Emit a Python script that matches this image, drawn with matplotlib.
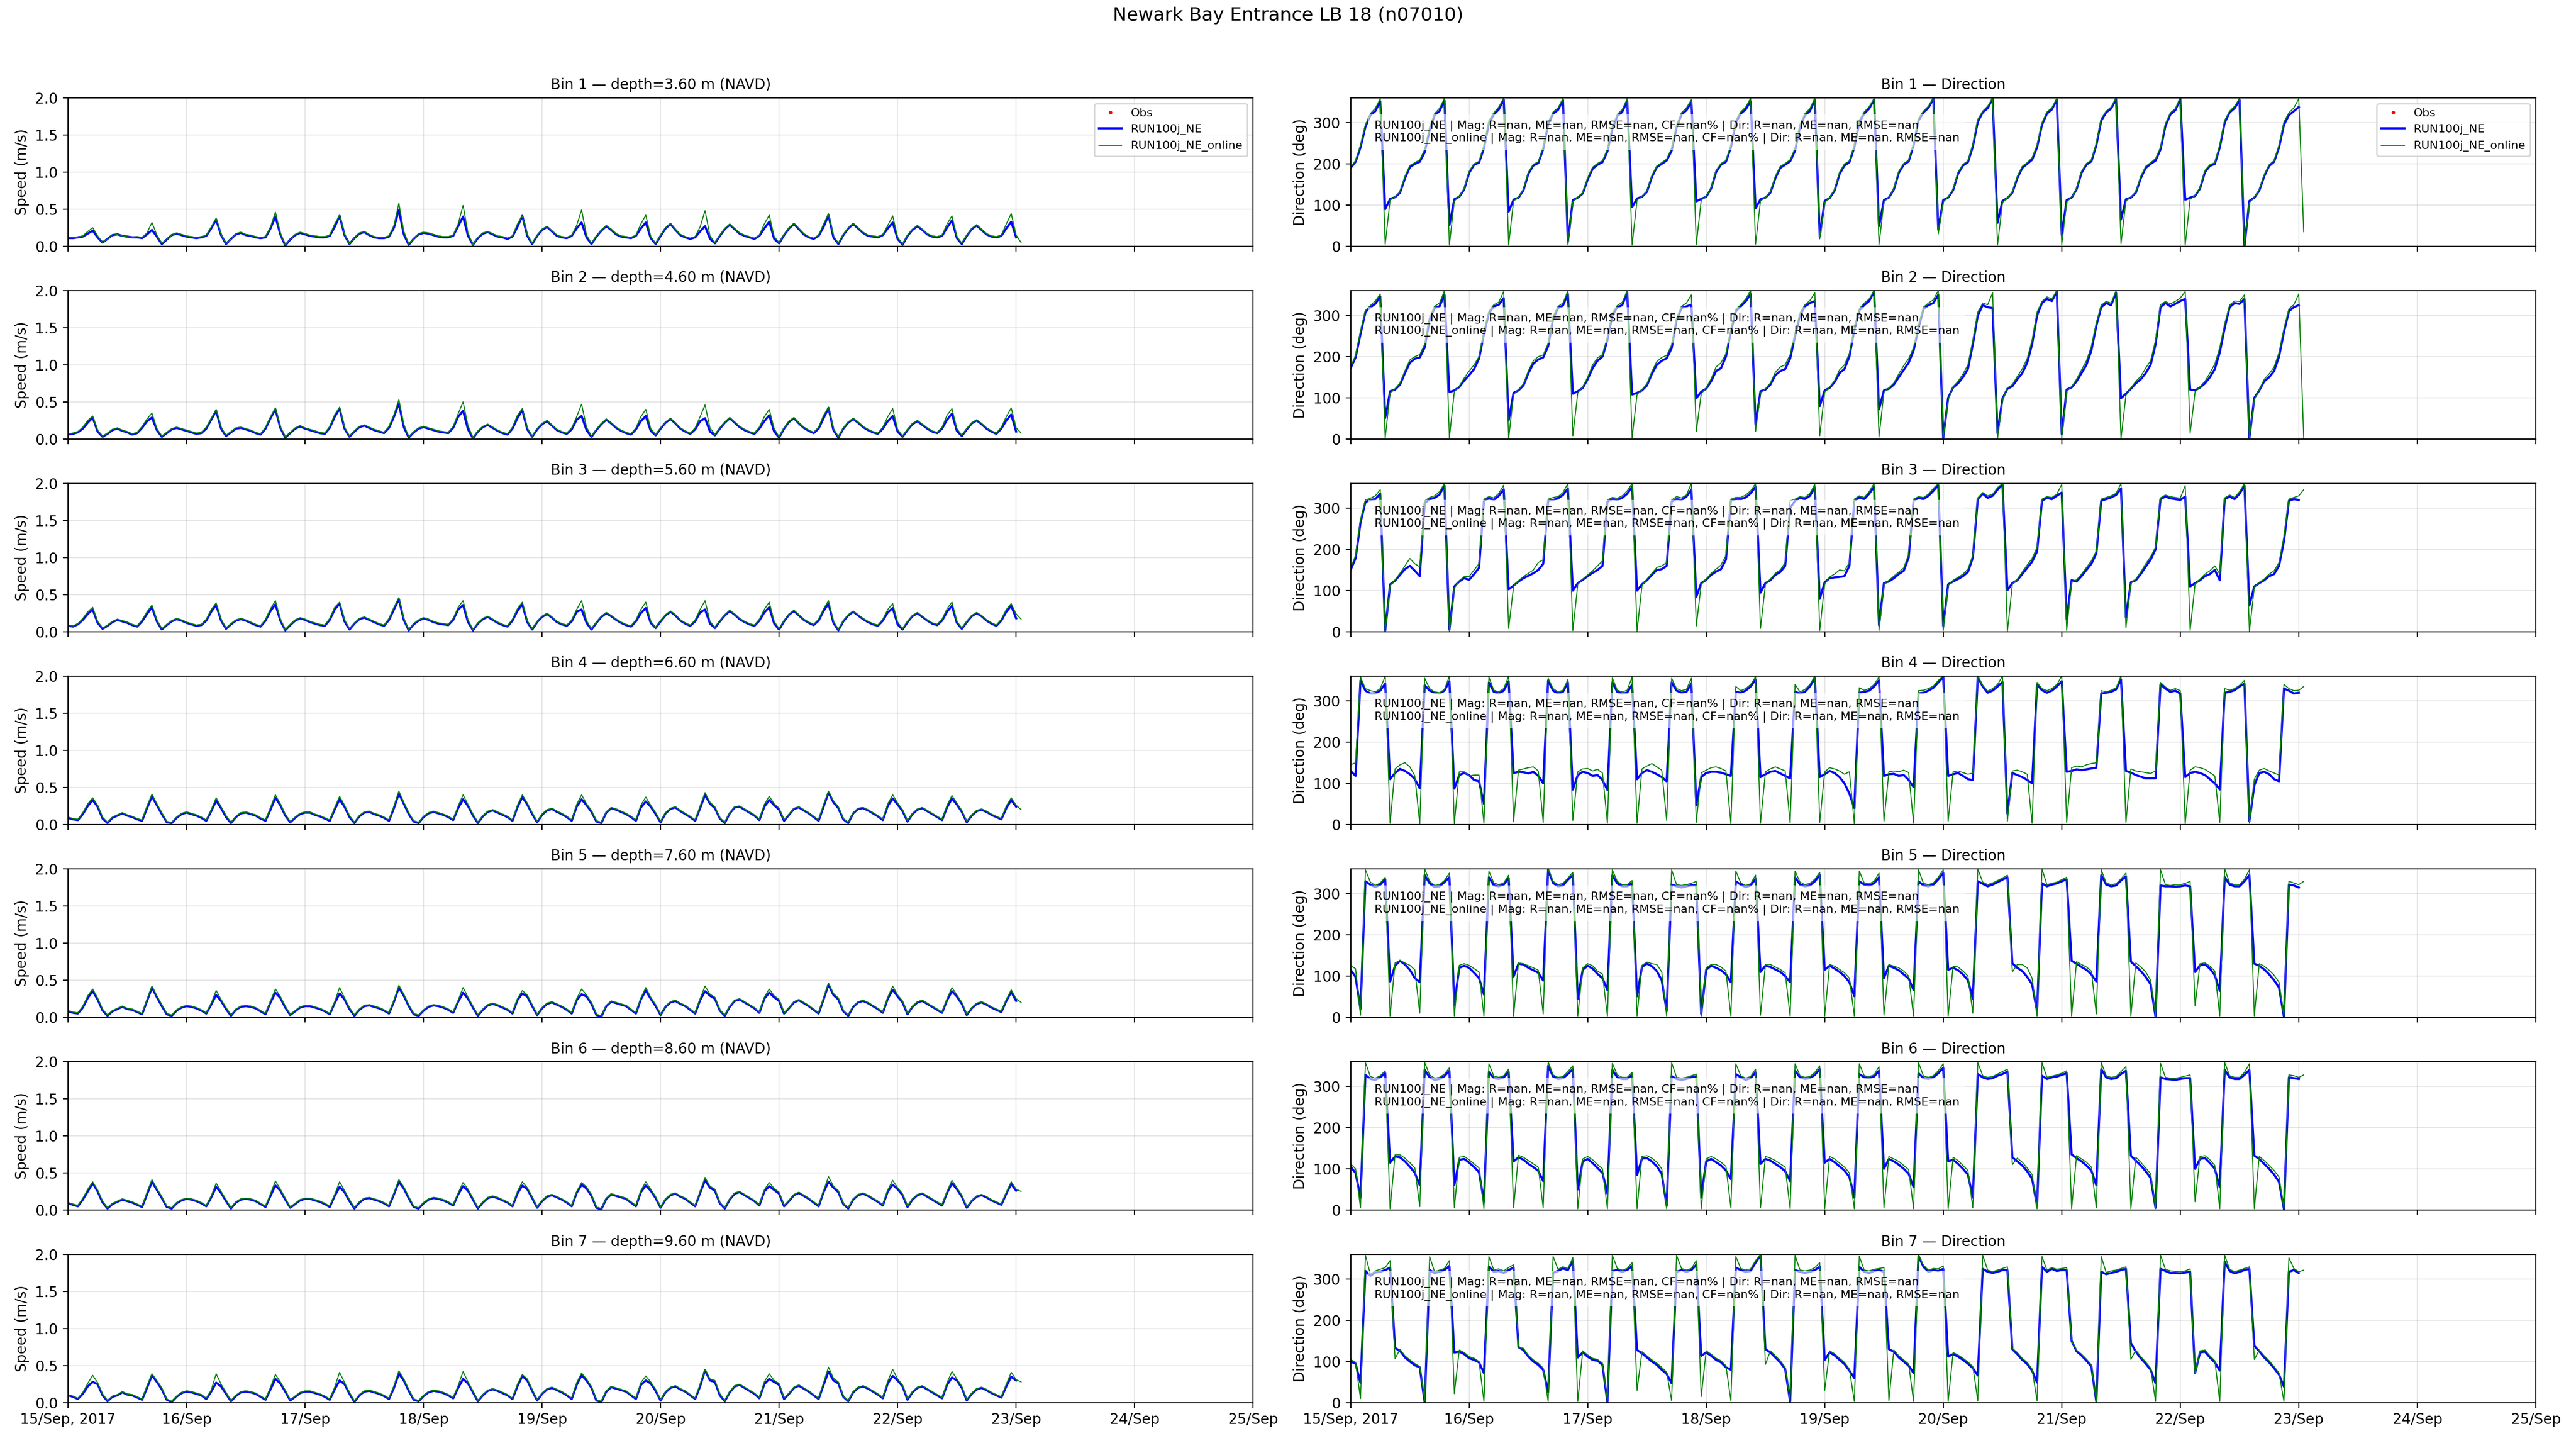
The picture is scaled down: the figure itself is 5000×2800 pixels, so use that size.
import numpy as np
import matplotlib
matplotlib.use("Agg")
import matplotlib.pyplot as plt

# ---------------- chart data ----------------
station_title = "Newark Bay Entrance LB 18 (n07010)"
bin_depths = [3.60, 4.60, 5.60, 6.60, 7.60, 8.60, 9.60]
model_names = ["RUN100j_NE", "RUN100j_NE_online"]
obs_label = "Obs"
series_start = "2017-09-15T00:00"   # hourly model output
x_tick_dates = ["2017-09-15", "2017-09-16", "2017-09-17", "2017-09-18", "2017-09-19", "2017-09-20",
                "2017-09-21", "2017-09-22", "2017-09-23", "2017-09-24", "2017-09-25"]
x_tick_labels = ["15/Sep, 2017", "16/Sep", "17/Sep", "18/Sep", "19/Sep", "20/Sep",
                 "21/Sep", "22/Sep", "23/Sep", "24/Sep", "25/Sep"]
speed_ticks = [0.0, 0.5, 1.0, 1.5, 2.0]
dir_ticks = [0, 100, 200, 300]
stats_text = ("RUN100j_NE | Mag: R=nan, ME=nan, RMSE=nan, CF=nan% | Dir: R=nan, ME=nan, RMSE=nan\n"
              "RUN100j_NE_online | Mag: R=nan, ME=nan, RMSE=nan, CF=nan% | Dir: R=nan, ME=nan, RMSE=nan")
obs_times = []
obs_values = []

# speed (m/s)
spd_run_bin1 = [.11,.11,.12,.13,.17,
.21,.12,.05,.10,.15,.16,.14,.13,.12,.12,.11,.16,
.22,.13,.03,.09,.15,.17,.15,.13,.12,.11,.12,.14,.24,
.36,.15,.03,.10,.16,.18,.15,.14,.12,.11,.12,.24,
.40,.16,.01,.09,.15,.18,.16,.14,.13,.12,.12,.14,.26,
.41,.15,.03,.11,.17,.19,.15,.12,.11,.11,.13,.25,
.49,.16,.02,.10,.16,.18,.17,.15,.13,.12,.12,.14,.27,
.40,.14,.02,.11,.17,.19,.16,.13,.12,.10,.13,.26,
.41,.14,.03,.14,.22,.26,.20,.14,.12,.11,.14,.24,
.32,.12,.03,.13,.21,.27,.22,.16,.13,.12,.11,.14,.24,
.32,.11,.03,.14,.24,.30,.22,.15,.12,.10,.12,.20,
.27,.10,.04,.14,.23,.29,.23,.17,.14,.12,.10,.14,.24,
.33,.10,.04,.15,.24,.30,.23,.16,.12,.10,.14,.26,
.42,.12,.03,.15,.24,.30,.24,.18,.14,.13,.12,.15,.24,
.32,.10,.02,.14,.22,.27,.22,.16,.13,.12,.14,.25,
.35,.11,.03,.14,.23,.28,.22,.16,.13,.12,.14,.24,
.33,.12]
spd_online_bin1 = [.12,.12,.12,.14,.20,
.25,.14,.05,.10,.15,.16,.14,.13,.12,.13,.12,.18,
.32,.15,.04,.09,.15,.18,.16,.14,.13,.12,.13,.15,.26,
.38,.16,.03,.10,.17,.19,.16,.15,.13,.12,.13,.26,
.46,.18,.02,.09,.16,.19,.17,.15,.14,.13,.13,.15,.30,
.42,.16,.03,.11,.18,.20,.16,.13,.12,.12,.14,.28,
.58,.20,.03,.10,.17,.19,.18,.16,.14,.13,.13,.15,.30,
.55,.18,.02,.12,.18,.20,.17,.14,.13,.11,.14,.30,
.41,.16,.04,.15,.23,.27,.21,.15,.13,.12,.15,.28,
.49,.15,.04,.14,.22,.28,.23,.17,.14,.13,.12,.15,.30,
.42,.13,.04,.15,.25,.31,.23,.16,.13,.11,.13,.26,
.48,.14,.05,.15,.24,.30,.24,.18,.15,.13,.11,.15,.30,
.42,.13,.05,.16,.25,.31,.24,.17,.13,.11,.15,.30,
.44,.14,.04,.16,.25,.31,.25,.19,.15,.14,.13,.16,.28,
.41,.12,.03,.15,.23,.28,.23,.17,.14,.13,.15,.30,
.41,.13,.04,.15,.24,.29,.23,.17,.14,.13,.15,.30,
.44,.15,.05]
spd_run_bin2 = [.06,.07,.09,.14,.22,
.29,.10,.03,.07,.12,.14,.11,.09,.06,.08,.15,.24,
.29,.12,.03,.08,.13,.15,.13,.11,.09,.07,.08,.14,.26,
.38,.14,.04,.09,.14,.15,.13,.11,.08,.06,.14,.28,
.40,.15,.02,.08,.14,.17,.14,.12,.10,.08,.07,.15,.30,
.41,.14,.03,.10,.16,.18,.15,.12,.10,.08,.15,.30,
.48,.16,.02,.09,.14,.16,.14,.12,.10,.09,.08,.15,.30,
.38,.13,.01,.10,.16,.19,.15,.11,.08,.06,.14,.28,
.39,.13,.03,.13,.20,.24,.18,.12,.09,.07,.13,.26,
.31,.12,.03,.12,.20,.26,.21,.15,.11,.08,.06,.13,.24,
.31,.11,.05,.14,.22,.27,.21,.14,.10,.07,.13,.24,
.28,.10,.05,.14,.22,.28,.22,.16,.12,.09,.07,.14,.24,
.32,.10,.02,.14,.23,.28,.21,.15,.11,.08,.14,.28,
.42,.12,.02,.14,.22,.27,.22,.16,.12,.09,.07,.14,.24,
.31,.10,.03,.12,.20,.24,.19,.14,.10,.08,.14,.26,
.34,.11,.04,.13,.21,.25,.20,.14,.10,.07,.14,.25,
.33,.10]
spd_online_bin2 = [.07,.08,.10,.16,.25,
.31,.12,.04,.08,.13,.15,.12,.10,.07,.09,.17,.27,
.35,.14,.04,.09,.14,.16,.14,.12,.10,.08,.09,.16,.28,
.40,.16,.05,.10,.15,.16,.14,.12,.09,.07,.16,.30,
.42,.17,.03,.09,.15,.18,.15,.13,.11,.09,.08,.17,.33,
.43,.16,.04,.11,.17,.19,.16,.13,.11,.09,.17,.33,
.53,.20,.03,.10,.15,.17,.15,.13,.11,.10,.09,.17,.34,
.50,.18,.02,.11,.17,.20,.16,.12,.09,.07,.16,.32,
.41,.15,.04,.14,.21,.25,.19,.13,.10,.08,.15,.30,
.47,.16,.04,.13,.21,.27,.22,.16,.12,.09,.07,.15,.30,
.40,.14,.06,.15,.23,.28,.22,.15,.11,.08,.15,.30,
.46,.15,.06,.15,.23,.29,.23,.17,.13,.10,.08,.16,.30,
.40,.14,.03,.15,.24,.29,.22,.16,.12,.09,.16,.32,
.43,.14,.03,.15,.23,.28,.23,.17,.13,.10,.08,.16,.30,
.41,.13,.04,.13,.21,.25,.20,.15,.11,.09,.16,.32,
.41,.14,.05,.14,.22,.26,.21,.15,.11,.08,.16,.30,
.42,.15,.08]
spd_run_bin3 = [.08,.07,.10,.16,.24,
.30,.12,.04,.08,.13,.16,.14,.12,.09,.07,.14,.24,
.33,.14,.03,.09,.14,.17,.15,.12,.10,.08,.09,.15,.27,
.36,.15,.04,.10,.15,.17,.15,.12,.09,.07,.15,.28,
.37,.15,.02,.09,.15,.18,.16,.13,.11,.09,.08,.16,.30,
.38,.14,.03,.11,.17,.19,.16,.13,.10,.08,.16,.30,
.44,.16,.02,.10,.15,.18,.16,.13,.11,.10,.09,.16,.30,
.36,.13,.02,.11,.17,.20,.16,.12,.09,.07,.15,.28,
.37,.13,.03,.13,.20,.24,.19,.13,.10,.08,.14,.27,
.30,.12,.03,.12,.20,.25,.21,.16,.12,.09,.07,.14,.25,
.32,.12,.05,.14,.22,.27,.22,.15,.11,.08,.14,.26,
.30,.11,.05,.14,.22,.28,.23,.17,.13,.10,.08,.15,.26,
.33,.11,.03,.14,.23,.28,.22,.16,.12,.09,.15,.28,
.38,.12,.02,.14,.22,.27,.22,.17,.13,.10,.08,.15,.26,
.32,.10,.03,.13,.21,.25,.20,.15,.11,.09,.15,.27,
.35,.12,.04,.13,.21,.25,.21,.15,.11,.08,.15,.27,
.35,.18]
spd_online_bin3 = [.09,.08,.11,.18,.27,
.33,.14,.05,.09,.14,.17,.15,.13,.10,.08,.16,.27,
.36,.16,.04,.10,.15,.18,.16,.13,.11,.09,.10,.17,.30,
.39,.17,.05,.11,.16,.18,.16,.13,.10,.08,.17,.31,
.42,.17,.03,.10,.16,.19,.17,.14,.12,.10,.09,.18,.33,
.40,.16,.04,.12,.18,.20,.17,.14,.11,.09,.18,.33,
.46,.18,.03,.11,.16,.19,.17,.14,.12,.11,.10,.18,.33,
.42,.16,.03,.12,.18,.21,.17,.13,.10,.08,.17,.31,
.40,.15,.04,.14,.21,.25,.20,.14,.11,.09,.16,.30,
.42,.15,.04,.13,.21,.26,.22,.17,.13,.10,.08,.16,.30,
.40,.14,.06,.15,.23,.28,.23,.16,.12,.09,.16,.30,
.42,.14,.06,.15,.23,.29,.24,.18,.14,.11,.09,.17,.30,
.40,.14,.04,.15,.24,.29,.23,.17,.13,.10,.17,.31,
.42,.14,.03,.15,.23,.28,.23,.18,.14,.11,.09,.17,.30,
.38,.13,.04,.14,.22,.26,.21,.16,.12,.10,.17,.31,
.40,.14,.05,.14,.22,.26,.22,.16,.12,.09,.17,.30,
.38,.24,.17]
spd_run_bin4 = [.09,.07,.06,.14,.25,
.33,.24,.08,.02,.09,.12,.15,.12,.10,.07,.05,.22,
.38,.26,.14,.03,.02,.09,.14,.16,.14,.12,.09,.05,.18,
.32,.22,.10,.02,.10,.15,.16,.14,.12,.08,.05,.20,
.36,.26,.12,.03,.09,.14,.16,.16,.13,.11,.08,.05,.20,
.34,.24,.10,.02,.11,.16,.17,.14,.12,.09,.05,.22,
.42,.28,.14,.04,.02,.10,.15,.17,.15,.13,.10,.06,.22,
.34,.25,.12,.02,.11,.17,.19,.16,.13,.10,.05,.23,
.37,.27,.14,.03,.13,.19,.21,.17,.14,.10,.05,.24,
.34,.26,.17,.04,.02,.16,.22,.20,.17,.14,.10,.05,.23,
.31,.24,.14,.03,.15,.21,.23,.18,.14,.10,.05,.22,
.40,.28,.22,.08,.02,.15,.23,.24,.20,.16,.12,.06,.24,
.33,.26,.20,.05,.13,.21,.23,.19,.15,.10,.05,.24,
.43,.30,.22,.07,.02,.15,.21,.22,.19,.15,.11,.06,.25,
.35,.27,.18,.04,.14,.20,.22,.18,.14,.10,.06,.23,
.35,.27,.17,.03,.12,.18,.20,.17,.13,.10,.07,.22,
.33,.24]
spd_online_bin4 = [.10,.08,.07,.16,.28,
.36,.26,.10,.03,.10,.13,.16,.13,.11,.08,.06,.25,
.41,.28,.16,.04,.03,.10,.15,.17,.15,.13,.10,.06,.20,
.36,.24,.12,.03,.11,.16,.17,.15,.13,.09,.06,.23,
.40,.28,.14,.04,.10,.15,.17,.17,.14,.12,.09,.06,.23,
.38,.26,.12,.03,.12,.17,.18,.15,.13,.10,.06,.25,
.45,.30,.16,.05,.03,.11,.16,.18,.16,.14,.11,.07,.25,
.40,.27,.14,.03,.12,.18,.20,.17,.14,.11,.06,.26,
.40,.29,.16,.04,.14,.20,.22,.18,.15,.11,.06,.27,
.40,.28,.19,.05,.03,.17,.23,.21,.18,.15,.11,.06,.26,
.37,.26,.16,.04,.16,.22,.24,.19,.15,.11,.06,.25,
.43,.30,.24,.09,.03,.16,.24,.25,.21,.17,.13,.07,.27,
.38,.28,.22,.06,.14,.22,.24,.20,.16,.11,.06,.27,
.45,.32,.24,.08,.03,.16,.22,.23,.20,.16,.12,.07,.28,
.40,.29,.20,.05,.15,.21,.23,.19,.15,.11,.07,.26,
.39,.29,.19,.04,.13,.19,.21,.18,.14,.11,.08,.25,
.36,.26,.20]
spd_run_bin5 = [.08,.06,.05,.13,.26,
.35,.24,.09,.02,.08,.11,.14,.11,.10,.07,.04,.22,
.40,.27,.15,.04,.02,.09,.13,.15,.14,.12,.09,.05,.17,
.30,.22,.11,.02,.10,.14,.15,.14,.12,.08,.04,.20,
.33,.26,.13,.03,.08,.13,.15,.15,.13,.11,.08,.04,.19,
.32,.24,.11,.02,.10,.15,.16,.14,.12,.09,.05,.21,
.40,.29,.15,.04,.02,.09,.14,.16,.15,.13,.10,.06,.21,
.33,.25,.13,.02,.10,.16,.18,.16,.13,.10,.05,.23,
.32,.28,.15,.03,.12,.18,.20,.17,.14,.10,.05,.23,
.31,.28,.18,.03,.01,.15,.21,.19,.17,.15,.10,.05,.24,
.36,.25,.15,.03,.14,.20,.22,.18,.15,.10,.05,.23,
.35,.29,.25,.09,.02,.14,.22,.24,.20,.16,.12,.06,.25,
.33,.27,.22,.05,.12,.20,.23,.19,.15,.10,.05,.24,
.44,.30,.24,.08,.02,.14,.20,.22,.19,.15,.11,.06,.25,
.37,.28,.20,.04,.14,.20,.22,.18,.14,.10,.06,.23,
.35,.28,.18,.03,.12,.18,.20,.17,.13,.10,.07,.22,
.34,.22]
spd_online_bin5 = [.09,.07,.06,.15,.29,
.38,.26,.11,.03,.09,.12,.15,.12,.11,.08,.05,.24,
.42,.29,.17,.05,.03,.10,.14,.16,.15,.13,.10,.06,.19,
.36,.24,.13,.03,.11,.15,.16,.15,.13,.09,.05,.22,
.38,.28,.15,.04,.09,.14,.16,.16,.14,.12,.09,.05,.21,
.40,.26,.13,.03,.11,.16,.17,.15,.13,.10,.06,.23,
.43,.31,.17,.05,.03,.10,.15,.17,.16,.14,.11,.07,.23,
.40,.27,.15,.03,.11,.17,.19,.17,.14,.11,.06,.25,
.36,.30,.17,.04,.13,.19,.21,.18,.15,.11,.06,.25,
.38,.30,.20,.04,.02,.16,.22,.20,.18,.16,.11,.06,.26,
.40,.27,.17,.04,.15,.21,.23,.19,.16,.11,.06,.25,
.42,.31,.27,.10,.03,.15,.23,.25,.21,.17,.13,.07,.27,
.38,.29,.24,.06,.13,.21,.24,.20,.16,.11,.06,.26,
.46,.32,.26,.09,.03,.15,.21,.23,.20,.16,.12,.07,.27,
.42,.30,.22,.05,.15,.21,.23,.19,.15,.11,.07,.25,
.40,.30,.20,.04,.13,.19,.21,.18,.14,.11,.08,.24,
.37,.25,.20]
spd_run_bin6 = [.09,.07,.05,.14,.25,
.36,.25,.10,.02,.08,.11,.14,.12,.10,.07,.04,.21,
.38,.27,.16,.04,.02,.09,.13,.15,.14,.12,.09,.05,.17,
.31,.23,.12,.02,.10,.14,.15,.14,.12,.08,.04,.19,
.33,.26,.14,.03,.08,.13,.15,.15,.13,.11,.08,.04,.19,
.31,.24,.12,.02,.10,.15,.16,.14,.12,.09,.05,.21,
.38,.29,.16,.04,.02,.09,.14,.16,.15,.13,.10,.06,.21,
.32,.26,.14,.02,.10,.16,.18,.16,.13,.10,.05,.22,
.33,.28,.16,.03,.12,.18,.20,.17,.14,.10,.05,.23,
.34,.29,.19,.03,.01,.15,.21,.19,.17,.15,.10,.05,.24,
.33,.26,.16,.03,.14,.20,.22,.18,.15,.10,.05,.23,
.40,.30,.26,.09,.02,.14,.22,.24,.20,.16,.12,.06,.25,
.32,.27,.22,.05,.12,.20,.23,.19,.15,.10,.05,.24,
.38,.30,.24,.08,.02,.14,.20,.22,.19,.15,.11,.06,.25,
.34,.28,.20,.04,.14,.20,.22,.18,.14,.10,.06,.23,
.36,.28,.18,.03,.12,.18,.20,.17,.13,.10,.07,.22,
.35,.26]
spd_online_bin6 = [.10,.08,.06,.16,.28,
.38,.27,.12,.03,.09,.12,.15,.13,.11,.08,.05,.24,
.41,.29,.18,.05,.03,.10,.14,.16,.15,.13,.10,.06,.19,
.36,.25,.14,.03,.11,.15,.16,.15,.13,.09,.05,.22,
.39,.28,.16,.04,.09,.14,.16,.16,.14,.12,.09,.05,.21,
.38,.26,.14,.03,.11,.16,.17,.15,.13,.10,.06,.23,
.41,.31,.18,.05,.03,.10,.15,.17,.16,.14,.11,.07,.23,
.37,.28,.16,.03,.11,.17,.19,.17,.14,.11,.06,.25,
.38,.30,.18,.04,.13,.19,.21,.18,.15,.11,.06,.25,
.37,.31,.21,.04,.02,.16,.22,.20,.18,.16,.11,.06,.26,
.38,.28,.18,.04,.15,.21,.23,.19,.16,.11,.06,.25,
.44,.32,.28,.10,.03,.15,.23,.25,.21,.17,.13,.07,.27,
.37,.29,.24,.06,.13,.21,.24,.20,.16,.11,.06,.26,
.45,.32,.26,.09,.03,.15,.21,.23,.20,.16,.12,.07,.27,
.40,.30,.22,.05,.15,.21,.23,.19,.15,.11,.07,.25,
.40,.30,.20,.04,.13,.19,.21,.18,.14,.11,.08,.24,
.38,.28,.25]
spd_run_bin7 = [.10,.08,.05,.12,.22,
.28,.25,.10,.02,.08,.10,.14,.11,.10,.07,.04,.20,
.37,.28,.18,.04,.01,.08,.13,.15,.14,.12,.10,.05,.15,
.27,.22,.12,.02,.09,.14,.15,.14,.12,.08,.04,.18,
.32,.26,.15,.03,.08,.13,.15,.15,.13,.11,.08,.04,.18,
.30,.25,.12,.01,.10,.15,.16,.14,.12,.09,.05,.20,
.39,.30,.16,.04,.02,.09,.14,.16,.15,.13,.10,.06,.20,
.32,.26,.14,.02,.10,.16,.18,.16,.13,.10,.05,.22,
.36,.30,.16,.03,.12,.18,.20,.17,.14,.10,.05,.24,
.37,.30,.20,.03,.01,.15,.21,.19,.17,.15,.10,.05,.24,
.30,.26,.16,.03,.14,.20,.22,.18,.15,.10,.05,.22,
.44,.30,.28,.10,.02,.14,.22,.24,.20,.16,.12,.06,.25,
.32,.28,.24,.05,.12,.20,.23,.19,.15,.10,.05,.24,
.42,.30,.26,.08,.02,.14,.20,.22,.19,.15,.11,.06,.26,
.36,.30,.22,.04,.14,.20,.22,.18,.14,.10,.06,.24,
.34,.30,.20,.03,.12,.18,.20,.17,.13,.10,.07,.22,
.35,.30]
spd_online_bin7 = [.11,.09,.06,.14,.26,
.37,.27,.12,.03,.09,.11,.15,.12,.11,.08,.05,.23,
.39,.30,.20,.05,.02,.09,.14,.16,.15,.13,.11,.06,.17,
.39,.25,.14,.03,.10,.15,.16,.15,.13,.09,.05,.21,
.38,.28,.17,.04,.09,.14,.16,.16,.14,.12,.09,.05,.21,
.41,.27,.14,.02,.11,.16,.17,.15,.13,.10,.06,.23,
.43,.32,.18,.05,.03,.10,.15,.17,.16,.14,.11,.07,.23,
.42,.28,.16,.03,.11,.17,.19,.17,.14,.11,.06,.25,
.38,.32,.18,.04,.13,.19,.21,.18,.15,.11,.06,.27,
.40,.32,.22,.04,.02,.16,.22,.20,.18,.16,.11,.06,.27,
.36,.28,.18,.04,.15,.21,.23,.19,.16,.11,.06,.25,
.45,.32,.30,.12,.03,.15,.23,.25,.21,.17,.13,.07,.28,
.39,.30,.26,.06,.13,.21,.24,.20,.16,.11,.06,.27,
.48,.33,.28,.09,.03,.15,.21,.23,.20,.16,.12,.07,.29,
.45,.32,.24,.05,.15,.21,.23,.19,.15,.11,.07,.27,
.42,.32,.22,.04,.13,.19,.21,.18,.14,.11,.08,.25,
.41,.31,.28]

# direction (deg)
dir_run_bin1 = [190,205,240,290,318,328,352,
90,115,119,130,165,192,200,205,228,282,318,328,354,
51,114,120,138,178,198,203,238,298,320,332,356,
84,113,118,136,176,196,202,236,296,322,331,355,
11,112,118,128,162,188,198,204,230,285,316,326,352,
95,116,120,132,168,192,200,208,232,288,320,330,350,
109,115,120,140,180,198,205,240,300,322,332,352,
92,114,118,130,165,190,198,206,232,290,318,328,355,
24,110,117,135,175,196,204,240,300,322,334,356,
49,112,118,138,178,198,206,245,305,325,336,358,
40,112,118,136,176,196,204,242,302,325,335,358,
57,110,117,130,165,190,200,210,240,295,322,332,356,
28,112,118,138,178,198,206,245,305,325,334,357,
65,114,118,130,165,190,200,208,235,292,320,330,358,
113,118,122,140,180,195,200,240,300,325,335,355,
0,110,118,135,170,195,205,240,295,318,328,338]
dir_online_bin1 = [192,208,245,295,322,335,358,
5,112,120,132,170,196,203,210,235,290,322,335,359,
3,110,121,140,182,200,206,245,305,324,338,360,
3,110,119,138,180,199,205,242,302,326,336,359,
4,108,119,130,166,192,201,208,236,292,320,332,358,
3,112,121,134,172,195,203,212,238,295,324,336,356,
4,112,121,142,184,201,208,246,306,326,338,359,
5,110,119,132,170,194,201,210,238,296,322,334,360,
18,106,118,138,180,200,207,246,306,326,339,358,
4,108,119,140,182,201,209,250,310,328,340,360,
30,108,119,138,180,199,207,248,308,328,340,360,
3,106,118,132,170,194,203,215,246,300,326,336,359,
3,108,119,140,182,201,209,250,310,328,338,360,
6,110,119,132,170,194,203,213,240,298,324,334,360,
3,114,123,142,184,198,203,246,306,328,340,359,
4,106,119,137,174,198,208,246,302,324,336,358,35]
dir_run_bin2 = [172,198,255,308,320,328,346,
51,116,120,132,160,185,195,198,222,290,318,322,350,
114,118,126,142,155,170,195,255,305,322,326,342,
45,112,118,130,160,183,193,198,225,292,318,324,352,
110,116,124,145,172,190,200,240,300,320,325,355,
108,112,118,130,158,180,190,196,220,288,318,322,326,
99,115,122,140,165,172,200,260,310,322,334,352,
35,116,120,132,155,165,170,195,250,300,322,330,335,
80,118,124,138,160,170,200,265,312,325,335,358,
72,118,122,132,150,168,185,215,270,315,325,330,350,
3,100,125,135,150,170,230,300,325,320,318,
14,98,122,128,145,160,185,230,300,330,340,335,358,
12,120,125,140,160,180,215,275,320,330,325,355,
99,110,122,135,145,160,180,230,320,330,322,328,335,340,
120,118,125,135,150,170,210,270,320,330,328,340,
3,100,118,140,150,165,200,260,310,320,325]
dir_online_bin2 = [175,203,262,312,324,335,352,
3,112,122,136,166,192,200,205,230,296,322,330,360,
3,115,128,148,165,180,200,262,310,326,332,358,
1,108,120,134,166,190,200,204,232,298,322,330,360,
8,112,126,150,180,197,205,248,306,324,332,360,
3,108,120,134,164,188,198,203,228,294,322,330,350,
18,110,124,146,175,185,207,268,315,326,340,360,
18,112,122,136,162,175,180,205,258,306,326,336,355,
8,114,126,142,168,180,208,272,316,330,340,360,
5,114,124,136,158,178,195,222,278,320,330,338,360,
3,95,127,140,158,180,240,308,330,326,355,
1,94,124,132,152,170,195,240,308,334,345,340,360,
3,116,127,145,168,190,225,282,325,334,330,360,
1,106,124,140,152,172,190,240,326,334,328,334,342,358,
14,114,127,140,160,182,222,280,325,335,334,350,
3,96,120,145,158,175,210,268,316,326,352,2]
dir_run_bin3 = [150,178,265,315,320,322,335,
3,115,124,138,152,160,148,135, 312,322,325,333,355,
5,110,122,130,126,140,155, 318,324,320,330,346,
103,112,122,130,136,142,150,165, 318,320,324,332,348,
100,118,126,135,143,150,160, 316,322,320,325,335,352,
100,115,125,138,150,152,160, 316,322,320,328,345,
85,118,126,138,146,152,175, 318,322,322,326,336,352,
95,118,125,138,145,160, 300,318,325,322,330,350,
80,120,130,132,133,135,160, 318,326,322,335,352,
16,118,122,130,140,148,180, 318,325,322,330,342,356,
14,115,122,128,135,145,180, 322,335,325,330,345,358,
101,118,125,140,155,170,195, 318,325,322,330,338,
30,125,122,135,150,165,190, 318,322,326,332,348,
35,120,125,140,158,175,200, 322,328,324,322,320,328,
110,118,125,135,140,150,125, 322,328,322,335,355,
64,110,118,125,135,140,160,220, 318,322,320]
dir_online_bin3 = [155,185,272,320,324,330,345,
1,112,126,142,160,178,165,158, 318,326,330,340,360,
1,106,124,134,134,150,165, 322,328,325,336,356,
8,110,124,134,142,150,168,175, 322,326,328,338,360,
3,115,128,138,148,160,172, 320,326,324,330,342,360,
1,112,128,142,156,160,168, 320,328,325,332,360,
14,115,128,142,152,162,185, 322,326,326,332,342,360,
8,115,128,142,150,168, 318,322,328,326,336,358,
3,116,133,140,150,148,168, 322,330,326,340,360,
3,115,125,135,145,155,188, 322,328,326,334,348,360,
3,112,125,132,140,152,186, 325,338,330,334,350,360,
1,115,128,145,162,178,205, 322,328,326,334,358,
3,122,126,140,156,172,196, 322,326,330,336,360,
10,118,128,145,165,182,206, 325,332,328,326,324,355,
3,116,128,140,148,160,140, 325,332,326,340,360,
1,108,120,128,140,148,168,232, 322,326,330,345]
dir_run_bin4 = [130,118,
350,325,318,318,325,342, 110,125,135,130,122,110,88,
338,325,320,318,325,348, 87,120,125,120,108,105,50,
345,322,318,325,348, 125,128,127,124,128,118,100,
350,325,318,322,345, 85,120,128,125,118,120,108,84,
345,322,318,320,340, 110,125,132,128,122,115,105,
345,325,320,322,342, 47,115,125,128,128,126,122,118,
322,320,325,335,352, 115,122,128,130,124,118,112,
322,318,322,335,355, 115,122,130,125,115,100,75,40,
320,322,325,335,350, 118,122,123,118,120,108,91,
318,320,325,332,345,358, 118,122,125,118,110,108,
358,335,320,325,335,346, 26,125,120,115,108,100,
340,326,320,325,335,348, 128,130,134,132,134,136,138,
318,320,322,328,352, 130,126,120,116,112,112,112,
340,330,322,325,318, 115,125,128,125,120,110,100,85,
320,322,326,335,342, 8,95,125,128,122,110,105,
330,325,318,320]
dir_online_bin4 = [145,150,
358,330,325,322,330,360, 3,135,145,150,140,118,2,
355,330,322,320,328,360, 2,128,128,118,120,120,3,
358,326,322,330,360, 8,132,135,138,140,130,5,
355,330,322,326,352, 10,128,135,136,130,134,125,3,
356,326,322,326,358, 3,135,142,148,140,132,10,
355,330,325,328,355, 5,125,132,138,140,136,130,2,
335,325,330,340,358, 3,128,135,140,135,130,4,
340,322,328,340,360, 5,128,138,135,130,122,128,2,
332,326,330,340,358, 8,128,130,128,132,126,3,
325,326,330,336,350,360, 8,128,130,126,122,125,
360,338,324,330,340,360, 8,130,132,128,122,3,
345,330,325,330,340,360, 5,138,142,140,145,148,150,
325,322,326,332,360, 5,135,130,128,126,124,130,
345,334,326,330,325, 2,132,140,138,134,126,118,5,
330,326,330,338,350, 3,110,132,136,130,125,120,
340,330,325,326,335]
dir_run_bin5 = [115,98,20,
330,322,316,322,335, 87,125,137,128,115,95,85,
345,325,316,318,328,340, 30,120,125,120,108,95,55,
340,320,318,322,338, 99,130,128,120,114,108,89,
358,326,318,320,334,345, 45,115,125,118,105,95,66,
345,325,318,318,326, 51,122,130,124,112,90,15,
322,318,315,318,320,320, 8,115,125,120,114,104,85,
330,322,316,320,336, 110,125,122,116,110,100,85,
340,322,318,320,330,345, 115,125,118,110,100,85,51,
330,322,320,325,340, 95,125,120,114,104,94,66,
330,320,318,322,335,350, 115,120,114,104,90,45,
330,324,318,322,328,334,340, 131,120,112,98,80,14,
325,318,322,325,330,335, 137,130,122,115,104,87,
345,322,318,320,332,342, 135,124,112,98,80,1,
320,318,318,317,318,320,318, 110,126,128,118,102,64,
340,322,318,318,330,345, 130,125,116,104,90,72,1,
322,320,315]
dir_online_bin5 = [125,118,5,
358,328,320,326,340, 3,132,138,132,126,115,10,
360,330,320,322,332,350, 3,126,130,126,118,110,3,
355,326,322,326,345, 3,132,130,125,120,114,8,
360,330,322,325,338,352, 3,120,130,125,112,105,3,
358,330,322,322,332, 3,126,134,130,128,110,3,
358,322,320,322,325,330, 3,120,128,128,122,112,3,
355,326,320,324,345, 5,128,128,122,116,108,3,
355,328,322,325,335,352, 3,128,124,116,108,95,3,
355,326,324,330,350, 5,128,124,120,112,100,3,
358,325,322,326,340,358, 3,124,122,112,100,10,
360,328,322,326,332,338,345, 110,128,128,120,95,3,
360,322,325,328,334,340, 3,135,128,122,112,8,
358,326,322,324,336,350, 3,132,122,110,90,2,
358,322,320,322,322,325,330, 28,130,132,124,112,3,
360,326,322,322,335,358, 3,130,124,114,102,85,2,
330,326,322,330]
dir_run_bin6 = [105,90,30,
328,318,316,322,332, 115,130,128,118,105,90,60,
340,322,316,318,325,338, 60,122,124,115,104,92,20,
335,320,318,322,335, 118,128,122,112,104,95,70,
350,324,318,320,330,342, 50,118,124,114,102,90,40,
340,322,318,318,328, 85,125,126,118,106,88,10,
325,318,316,318,322,325, 30,118,124,116,108,96,75,
330,322,316,320,334, 112,124,120,112,104,94,70,
338,322,318,320,328,342, 115,124,116,106,96,80,30,
330,322,320,324,338, 100,124,118,110,100,88,55,
332,320,318,322,332,345, 118,122,112,100,86,30,
330,322,318,320,326,330,336, 128,118,108,94,76,10,
326,318,322,324,328,332, 135,126,118,108,96,60,
342,322,318,320,330,338, 132,120,108,94,78,5,
322,318,317,316,318,320,320, 100,124,126,114,100,55,
340,322,318,318,328,340, 132,124,112,100,86,68,2,
322,320,318]
dir_online_bin6 = [112,100,5,
358,324,320,326,338, 3,134,134,126,115,102,8,
358,328,320,322,330,345, 5,128,130,122,112,102,3,
355,325,322,326,342, 5,133,128,120,112,104,5,
360,328,322,324,336,350, 3,124,130,122,110,100,3,
356,328,322,322,334, 3,130,132,126,116,100,3,
358,322,320,322,326,330, 3,124,130,124,116,106,5,
355,326,320,324,342, 5,130,126,120,112,104,3,
355,326,322,324,334,350, 3,130,124,114,104,90,3,
355,326,324,328,348, 5,130,124,118,108,98,3,
358,325,322,326,338,355, 3,128,120,108,96,5,
358,326,322,324,330,336,342, 110,126,116,102,86,3,
358,322,325,328,332,338, 3,132,124,116,104,5,
358,326,322,324,336,348, 3,128,116,102,88,3,
356,322,320,320,322,325,328, 20,130,132,122,108,3,
358,326,322,322,334,355, 3,130,120,108,96,80,3,
328,326,322,328]
dir_run_bin7 = [100,95,48,
320,308,316,318,322,328, 133,126,110,100,91,86,1,
322,315,318,322,332, 122,124,118,108,104,98,72,
330,318,320,315,322,328, 135,128,112,100,92,80,26,
315,320,326,322,345, 110,122,112,104,102,92,1,
320,322,318,322,332, 128,120,110,100,92,80,70,47,
318,322,318,322,335, 114,122,114,104,98,86,80,
328,322,318,320,340,358, 130,122,110,98,82,3,
322,318,315,318,322,330, 104,122,115,104,94,78,60,
330,318,315,320,322,318, 130,124,110,100,90,72,
356,330,318,322,320,325, 112,118,112,104,95,84,66,
325,318,315,318,322,322, 130,118,104,94,78,49,
330,318,325,320,322,322, 150,125,115,102,88,3,
318,312,315,318,322,325, 145,124,108,95,80,47,
325,320,315,315,314,316,318, 72,122,124,110,98,78,
342,320,314,318,322,325, 138,125,110,98,84,68,39,
318,322,315]
dir_online_bin7 = [105,98,10,
358,312,320,324,328,345, 107,130,114,104,95,88,5,
355,318,322,326,345, 22,128,122,112,108,100,3,
355,322,325,320,328,335, 135,132,115,104,96,84,3,
355,324,330,326,352, 3,126,116,108,105,96,3,
358,326,322,326,340, 30,124,114,104,96,86,74,5,
358,326,322,326,345, 15,126,118,108,102,90,5,
355,326,322,325,345,360, 93,126,114,102,86,5,
358,322,320,322,328,340, 30,126,119,108,98,82,3,
356,322,320,324,326,328, 5,128,114,104,94,3,
360,334,322,326,325,332, 3,122,116,108,99,88,5,
358,322,318,322,326,330, 132,122,108,98,82,5,
355,322,328,324,326,328, 150,128,118,106,92,3,
355,316,320,322,326,330, 105,128,112,99,84,3,
358,324,320,319,318,320,325, 70,126,128,114,102,3,
358,324,318,322,326,330, 105,128,114,102,88,72,3,
352,326,318,322]

spd_run = [spd_run_bin1, spd_run_bin2, spd_run_bin3, spd_run_bin4, spd_run_bin5, spd_run_bin6, spd_run_bin7]
spd_online = [spd_online_bin1, spd_online_bin2, spd_online_bin3, spd_online_bin4, spd_online_bin5, spd_online_bin6, spd_online_bin7]
dir_run = [dir_run_bin1, dir_run_bin2, dir_run_bin3, dir_run_bin4, dir_run_bin5, dir_run_bin6, dir_run_bin7]
dir_online = [dir_online_bin1, dir_online_bin2, dir_online_bin3, dir_online_bin4, dir_online_bin5, dir_online_bin6, dir_online_bin7]

# ---------------- plotting ----------------
t0 = np.datetime64(series_start)


def hourly(values):
    return t0 + np.arange(len(values)) * np.timedelta64(1, "h")


tick_pos = np.array(x_tick_dates, dtype="datetime64[h]")
obs_t = np.array(obs_times, dtype="datetime64[h]")
obs_v = np.array(obs_values, dtype=float)

fig, axes = plt.subplots(7, 2, figsize=(25, 14), dpi=200, sharex=True)
fig.subplots_adjust(left=0.0264, right=0.9844, top=0.9321, bottom=0.0279,
                    wspace=0.0822, hspace=0.30)
fig.suptitle(station_title, fontsize=13, y=0.9955, va="top")

c_run = "#0000ff"
c_online = "#008000"

for i in range(7):
    axs = axes[i, 0]
    axd = axes[i, 1]

    axs.plot(obs_t, obs_v, ".", color="red", ms=3, label=obs_label)
    axs.plot(hourly(spd_run[i]), spd_run[i], color=c_run, lw=1.5, label=model_names[0])
    axs.plot(hourly(spd_online[i]), spd_online[i], color=c_online, lw=0.7, label=model_names[1])
    axs.set_ylim(0, 2.0)
    axs.set_yticks(speed_ticks)
    axs.set_ylabel("Speed (m/s)")
    axs.set_title(f"Bin {i + 1} \u2014 depth={bin_depths[i]:.2f} m (NAVD)", fontsize=10)
    axs.grid(True, alpha=0.3)

    axd.plot(obs_t, obs_v, ".", color="red", ms=3, label=obs_label)
    axd.plot(hourly(dir_run[i]), dir_run[i], color=c_run, lw=1.5, label=model_names[0])
    axd.plot(hourly(dir_online[i]), dir_online[i], color=c_online, lw=0.7, label=model_names[1])
    axd.set_ylim(0, 360)
    axd.set_yticks(dir_ticks)
    axd.set_ylabel("Direction (deg)")
    axd.set_title(f"Bin {i + 1} \u2014 Direction", fontsize=10)
    axd.grid(True, alpha=0.3)
    axd.text(0.02, 0.85, stats_text, transform=axd.transAxes, fontsize=8, va="top", ha="left",
             bbox=dict(facecolor="white", alpha=0.6, edgecolor="none"))

    if i == 0:
        axs.legend(loc="upper right", fontsize=8)
        axd.legend(loc="upper right", fontsize=8)

for ax in axes.flat:
    ax.set_xlim(tick_pos[0], tick_pos[-1])
    ax.set_xticks(tick_pos)
for ax in axes[-1, :]:
    ax.set_xticklabels(x_tick_labels)

fig.savefig("out.png", dpi=200)
